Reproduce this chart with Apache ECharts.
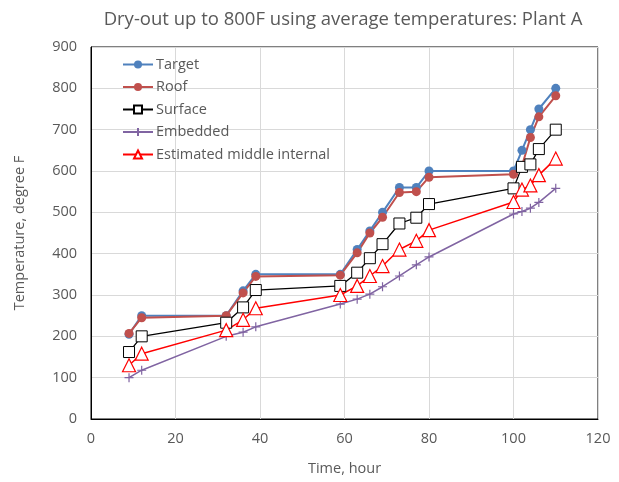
<!DOCTYPE html>
<html>
<head>
<meta charset="utf-8">
<script src="https://cdn.jsdelivr.net/npm/echarts@6/dist/echarts.min.js"></script>
<style>
  html, body { margin: 0; padding: 0; background: #fff; }
  #chart { width: 619px; height: 482px; }
</style>
</head>
<body>
<div id="chart"></div>
<script>
// time in hours, shared by all series
const hours = [9, 12, 32, 36, 39, 59, 63, 66, 69, 73, 77, 80, 100, 102, 104, 106, 110]
const target = [205, 250, 250, 310, 350, 350, 410, 455, 500, 560, 560, 600, 600, 650, 700, 750, 800]
const roof = [207, 245, 250, 305, 345, 348, 402, 450, 488, 548, 550, 585, 592, 612, 681, 731, 782]
const surface = [162, 200, 233, 270, 312, 322, 354, 389, 423, 473, 487, 520, 558, 610, 616, 653, 700]
const embedded = [100, 118, 200, 210, 223, 278, 290, 302, 320, 346, 373, 392, 496, 502, 510, 524, 558]
const middle = [130, 158, 215, 240, 268, 300, 322, 346, 370, 410, 431, 457, 525, 555, 565, 590, 630]

const pairs = vals => hours.map((h, i) => [h, vals[i]])
const font = '"Open Sans", "Liberation Sans", sans-serif'
const grey = '#595959'
const plus = 'path://M0,5L10,5M5,0L5,10'

const chart = echarts.init(document.getElementById('chart'))
chart.setOption({
  animation: false,
  textStyle: { fontFamily: font },
  title: {
    text: 'Dry-out up to 800F using average temperatures: Plant A',
    left: 338,
    textAlign: 'center',
    top: 5,
    textStyle: { fontSize: 18.5, fontWeight: 'normal', color: grey, fontFamily: font }
  },
  grid: {
    left: 91, right: 21, top: 47, bottom: 63,
    show: true, borderColor: '#000', borderWidth: 1
  },
  legend: {
    orient: 'vertical',
    left: 117, top: 52,
    itemWidth: 30, itemHeight: 10, itemGap: 7.5,
    textStyle: { fontSize: 14.5, color: grey, fontFamily: font, padding: [0, 0, 0, -2] }
  },
  xAxis: {
    type: 'value',
    min: 0, max: 120, interval: 20,
    name: 'Time, hour',
    nameLocation: 'middle',
    nameGap: 42,
    nameTextStyle: { fontSize: 14.5, color: grey },
    axisLine: { lineStyle: { color: '#000', width: 1 } },
    axisTick: { show: false },
    axisLabel: { fontSize: 14.5, color: grey, margin: 12 },
    splitLine: { lineStyle: { color: '#d9d9d9', width: 1 } }
  },
  yAxis: {
    type: 'value',
    min: 0, max: 900, interval: 100,
    name: 'Temperature, degree F',
    nameLocation: 'middle',
    nameGap: 64,
    nameTextStyle: { fontSize: 14.5, color: grey },
    axisLine: { show: true, lineStyle: { color: '#000', width: 1 } },
    axisTick: { show: false },
    axisLabel: { fontSize: 14.5, color: grey, margin: 14 },
    splitLine: { lineStyle: { color: '#d9d9d9', width: 1 } }
  },
  series: [
    {
      name: 'Target', type: 'line', data: pairs(target),
      symbol: 'circle', symbolSize: 9,
      lineStyle: { color: '#4f81bd', width: 2 },
      itemStyle: { color: '#4f81bd' }
    },
    {
      name: 'Roof', type: 'line', data: pairs(roof),
      symbol: 'circle', symbolSize: 9,
      lineStyle: { color: '#c0504d', width: 2 },
      itemStyle: { color: '#c0504d' }
    },
    {
      name: 'Surface', type: 'line', data: pairs(surface),
      symbol: 'rect', symbolSize: 11,
      lineStyle: { color: '#000', width: 1.3 },
      itemStyle: { color: '#fff', borderColor: '#000', borderWidth: 1 }
    },
    {
      name: 'Embedded', type: 'line', data: pairs(embedded),
      symbol: plus, symbolSize: 9,
      lineStyle: { color: '#8064a2', width: 1.5 },
      itemStyle: { color: '#8064a2', borderColor: '#8064a2', borderWidth: 1.2 }
    },
    {
      name: 'Estimated middle internal', type: 'line', data: pairs(middle),
      symbol: 'triangle', symbolSize: 13,
      lineStyle: { color: '#ff0000', width: 1.5 },
      itemStyle: { color: '#fff', borderColor: '#ff0000', borderWidth: 1.2 }
    }
  ]
})
</script>
</body>
</html>
